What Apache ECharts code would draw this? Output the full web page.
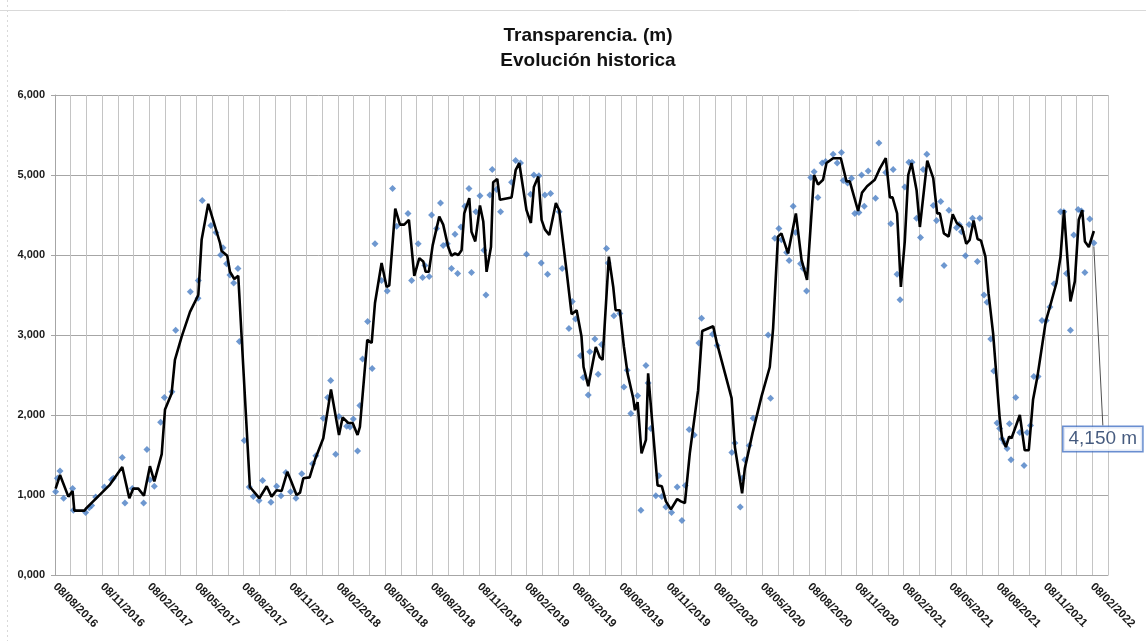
<!DOCTYPE html>
<html>
<head>
<meta charset="utf-8">
<title>Transparencia</title>
<script src="https://cdn.jsdelivr.net/npm/echarts@6/dist/echarts.min.js"></script>
<style>
  html, body { margin: 0; padding: 0; background: #fff; }
  #main { width: 1146px; height: 641px; }
</style>
</head>
<body>
<div id="main"></div>
<script>
// meses contados desde 08/08/2016
const pointMonths = [
  0.04, 0.15, 0.32, 0.55, 1.12, 1.17, 1.95, 2.18, 2.33, 2.59, 3.14, 3.6, 3.71, 4.28, 4.45, 4.92,
  5.64, 5.85, 6.04, 6.32, 6.72, 6.96, 7.44, 7.68, 8.61, 9.1, 9.12, 9.37, 9.92, 10.24, 10.54, 10.69,
  10.92, 11.13, 11.37, 11.64, 11.73, 12.04, 12.36, 12.62, 12.98, 13.21, 13.74, 14.1, 14.38, 14.69,
  14.99, 15.33, 15.7, 16.39, 16.6, 17.07, 17.35, 17.54, 17.86, 18.07, 18.56, 18.77, 18.98, 19.25,
  19.4, 19.57, 19.89, 20.18, 20.36, 20.78, 21.14, 21.48, 21.74, 22.46, 22.69, 23.11, 23.39, 23.54,
  23.81, 23.96, 24.28, 24.53, 24.7, 24.96, 25.23, 25.45, 25.62, 25.83, 26.08, 26.34, 26.5, 26.78,
  27.04, 27.29, 27.42, 27.67, 27.82, 28.1, 28.35, 29.05, 29.31, 29.62, 30.0, 30.26, 30.47, 30.79,
  30.94, 31.17, 31.34, 31.53, 32.08, 32.27, 32.7, 32.91, 33.12, 33.44, 33.61, 33.93, 34.03, 34.35,
  34.56, 34.78, 35.09, 35.2, 35.56, 35.94, 36.2, 36.41, 36.64, 37.07, 37.28, 37.6, 37.74, 37.91,
  38.23, 38.42, 38.61, 38.87, 39.23, 39.59, 39.89, 40.1, 40.35, 40.67, 40.97, 41.14, 41.84, 42.13,
  43.07, 43.26, 43.6, 43.72, 43.89, 44.17, 44.42, 45.38, 45.53, 45.8, 46.06, 46.22, 46.55, 46.71,
  46.97, 47.12, 47.44, 47.6, 47.82, 48.09, 48.3, 48.54, 48.81, 49.03, 49.51, 49.77, 50.04, 50.15,
  50.43, 50.68, 50.89, 51.15, 51.32, 51.49, 51.74, 52.21, 52.42, 52.86, 53.18, 53.33, 53.58, 53.77,
  54.07, 54.33, 54.53, 54.82, 55.07, 55.24, 55.47, 55.88, 56.09, 56.36, 56.57, 56.88, 57.36, 57.53,
  57.68, 57.93, 58.16, 58.38, 58.69, 58.84, 59.11, 59.3, 59.54, 59.73, 59.94, 60.11, 60.26, 60.42,
  60.58, 60.73, 60.83, 61.13, 61.39, 61.66, 61.85, 62.07, 62.28, 62.55, 62.8, 63.07, 63.3, 63.57,
  63.98, 64.19, 64.36, 64.61, 64.82, 65.1, 65.31, 65.53, 65.84, 66.1
]
const pointValues = [
  1040, 1210, 1300, 960, 1080, 810, 780, 840, 870, 975, 1100, 1190, 1210, 1470, 900, 1080,
  900, 1570, 1190, 1110, 1910, 2220, 2290, 3060, 3540, 3460, 3680, 4680, 4370, 4280, 4000, 4090,
  3890, 3750, 3650, 3830, 2920, 1680, 1100, 980, 930, 1180, 910, 1110, 990, 1280,
  1040, 960, 1265, 1390, 1490, 1960, 2220, 2430, 1510, 1980, 1860, 1850, 1950, 1550,
  2120, 2700, 3170, 2580, 4140, 3680, 3550, 4830, 4360, 4520, 3680, 4140, 3720, 3870,
  3730, 4500, 4330, 4650, 4120, 4140, 3830, 4260, 3770, 4350, 4610, 4830, 3780, 4540,
  4740, 4060, 3500, 4750, 5070, 4820, 4540, 4910, 5180, 5150, 4010, 4760, 5000, 4990,
  3900, 4750, 3760, 4770, 4540, 3830, 3080, 3420, 3200, 2740, 2470, 2250, 2790, 2950,
  2510, 2880, 4080, 3900, 3240, 3270, 2350, 2560, 2020, 2240, 810, 2620, 2400, 1830,
  990, 1240, 980, 850, 780, 1100, 680, 1120, 1820, 1750, 2900, 3210, 3010, 2870,
  1530, 1650, 850, 1210, 1440, 1620, 1960, 3000, 2210, 4210, 4330, 4190, 4030, 3930,
  4610, 4280, 3890, 3830, 3550, 4970, 5040, 4720, 5150, 5170, 5260, 5150, 5280, 4930,
  4900, 4960, 4520, 4530, 5000, 4610, 5050, 4710, 5400, 5030, 4390, 5070, 3760, 3440,
  4850, 5160, 5160, 4460, 4220, 5070, 5260, 4620, 4430, 4670, 3870, 4560, 4340, 4380,
  4290, 3990, 4380, 4460, 3920, 4460, 3500, 3410, 2950, 2550, 1900, 1830, 1700, 1650,
  1580, 1890, 1440, 2220, 1780, 1370, 1780, 1870, 2480, 2480, 3180, 3180, 3350, 3640,
  4540, 4540, 3770, 3060, 4250, 4570, 4550, 3780, 4450, 4150
]
// media móvil (línea negra)
const trendMonths = [
  0.04, 0.32, 0.85, 1.12, 1.23, 1.87, 2.01, 3.5, 4.28, 4.73, 4.98, 5.3, 5.66, 6.04, 6.32, 6.79,
  7.0, 7.42, 7.63, 8.06, 8.59, 9.12, 9.33, 9.75, 10.5, 10.6, 10.96, 11.13, 11.41, 11.66, 12.4, 13.0,
  13.47, 13.78, 14.1, 14.42, 14.78, 14.99, 15.37, 15.59, 15.8, 16.2, 16.54, 17.07, 17.56, 18.07,
  18.3, 18.66, 18.94, 19.25, 19.4, 19.87, 20.15, 20.36, 20.78, 21.1, 21.27, 21.65, 21.95, 22.22,
  22.52, 22.86, 23.18, 23.43, 23.58, 23.79, 24.03, 24.45, 24.7, 25.02, 25.23, 25.45, 25.66, 25.87,
  26.04, 26.36, 26.5, 26.74, 27.04, 27.25, 27.46, 27.74, 27.88, 28.14, 28.31, 29.05, 29.31, 29.54,
  30.0, 30.28, 30.47, 30.75, 30.96, 31.17, 31.45, 31.87, 32.08, 32.55, 32.87, 33.19, 33.5, 33.63,
  33.93, 34.41, 34.67, 34.84, 35.24, 35.52, 35.67, 35.94, 36.2, 36.43, 36.79, 36.9, 37.07, 37.32,
  37.6, 37.74, 38.34, 38.61, 38.87, 39.19, 39.59, 39.82, 40.08, 40.39, 40.92, 41.18, 41.88, 42.09,
  43.05, 43.26, 43.72, 43.89, 44.38, 44.95, 45.48, 45.69, 46.0, 46.22, 46.64, 47.14, 47.5, 47.85,
  48.3, 48.55, 48.87, 49.09, 49.51, 50.0, 50.36, 50.57, 51.1, 51.35, 51.67, 52.16, 52.48, 52.86,
  53.12, 53.29, 53.58, 53.82, 54.07, 54.29, 54.5, 54.82, 55.03, 55.5, 55.88, 56.13, 56.3, 56.56,
  56.86, 57.12, 57.38, 57.71, 57.98, 58.2, 58.45, 58.7, 58.92, 59.2, 59.4, 59.69, 60.1, 60.26,
  60.5, 60.71, 60.86, 61.39, 61.7, 61.96, 62.23, 62.51, 63.04, 63.3, 63.51, 63.72, 63.98, 64.2,
  64.61, 64.89, 65.14, 65.36, 65.53, 65.78, 66.1
]
const trendValues = [
  1080, 1250, 980, 1050, 805, 805, 840, 1130, 1350, 960, 1080, 1080, 990, 1360, 1170, 1510,
  2070, 2270, 2690, 2980, 3290, 3500, 4190, 4640, 4150, 4050, 3990, 3790, 3700, 3740, 1100, 960,
  1110, 980, 1060, 1050, 1290, 1190, 1000, 1030, 1210, 1220, 1440, 1710, 2320, 1750,
  1970, 1900, 1900, 1750, 1850, 2940, 2900, 3400, 3900, 3600, 3620, 4580, 4380, 4380,
  4440, 3740, 3960, 3920, 3790, 3790, 4120, 4480, 4380, 4100, 3990, 4020, 4000, 4060,
  4520, 4710, 4290, 4170, 4620, 4420, 3790, 4100, 4910, 4950, 4690, 4720, 5060, 5150,
  4560, 4400, 4850, 4980, 4440, 4320, 4250, 4650, 4560, 3800, 3260, 3310, 2980, 2600,
  2360, 2850, 2720, 2690, 3980, 3600, 3310, 3310, 2850, 2520, 2210, 2060, 2160, 1520,
  1690, 2520, 1120, 1110, 920, 820, 950, 920, 900, 1520, 2310, 3050, 3110, 2920,
  2210, 1600, 1020, 1330, 1770, 2230, 2600, 3080, 4230, 4270, 4020, 4520, 3940, 3690,
  5000, 4880, 4940, 5150, 5210, 5210, 4920, 4920, 4550, 4780, 4860, 4940, 5080, 5210,
  4720, 4720, 4520, 3600, 4170, 5000, 5150, 4810, 4350, 5180, 4960, 4520, 4520, 4270,
  4230, 4510, 4400, 4350, 4140, 4190, 4430, 4200, 4180, 3980, 3520, 3020, 1980, 1710,
  1600, 1730, 1710, 2000, 1560, 1560, 2190, 2480, 3170, 3350, 3500, 3650, 3980, 4560,
  3420, 3670, 4440, 4560, 4170, 4100, 4300
]
const startYear = 2016
const startMonth = 7 // agosto
const lastMonth = 66 // 08/02/2022

const monthLabel = (m) => {
  const total = startMonth + m
  const mm = String((total % 12) + 1).padStart(2, '0')
  return '08/' + mm + '/' + (startYear + Math.floor(total / 12))
}

const lastIdx = pointMonths.length - 1
const scatterData = pointMonths.map((m, i) => {
  if (i !== lastIdx) return [m, pointValues[i]]
  return {
    value: [m, pointValues[i]],
    label: {
      show: true,
      position: 'inside',
      formatter: (p) => p.value[1].toLocaleString('en-US') + ' m',
      fontFamily: 'Liberation Sans',
      fontSize: 19,
      color: '#17315e',
      backgroundColor: '#fff',
      borderColor: '#4472c4',
      borderWidth: 1.5,
      padding: [3, 5, 2, 5],
    },
    labelLine: { show: true, lineStyle: { color: '#505050', width: 1 } },
  }
})

const chart = echarts.init(document.getElementById('main'), null, { renderer: 'canvas' })
chart.setOption({
  backgroundColor: '#fff',
  animation: false,
  title: {
    text: 'Transparencia. (m)\nEvolución historica',
    left: 583,
    top: 18,
    textAlign: 'center',
    textStyle: {
      fontFamily: 'Liberation Sans',
      fontSize: 19,
      fontWeight: 'bold',
      color: '#111',
      lineHeight: 25,
    },
  },
  graphic: [
    { type: 'line', shape: { x1: 0, y1: 10.5, x2: 1146, y2: 10.5 }, style: { stroke: '#d9d9d9', lineWidth: 1 } },
    { type: 'line', shape: { x1: 7.5, y1: 0, x2: 7.5, y2: 641 }, style: { stroke: '#d9d9d9', lineWidth: 1, lineDash: [2, 3] } },
  ],
  grid: { left: 55, right: 38, top: 95, bottom: 66 },
  xAxis: {
    type: 'value',
    min: 0,
    max: 67,
    interval: 1,
    axisLine: { show: true, lineStyle: { color: '#a6a6a6' } },
    axisTick: { show: false },
    splitLine: { show: true, lineStyle: { color: '#c4c4c4', width: 1 } },
    axisLabel: {
      rotate: -45,
      margin: 10,
      fontFamily: 'Liberation Sans',
      fontSize: 11.5,
      fontWeight: 'bold',
      color: '#1a1a1a',
      showMinLabel: true,
      showMaxLabel: true,
      formatter: (v) => (v % 3 === 0 && v <= lastMonth ? monthLabel(v) : ''),
    },
  },
  yAxis: {
    type: 'value',
    min: 0,
    max: 6000,
    interval: 1000,
    axisLine: { show: true, lineStyle: { color: '#a6a6a6' } },
    axisTick: { show: true, length: 4, lineStyle: { color: '#a6a6a6' } },
    splitLine: { show: true, lineStyle: { color: '#a6a6a6', width: 1 } },
    axisLabel: {
      margin: 10,
      fontFamily: 'Liberation Sans',
      fontSize: 11,
      fontWeight: 'bold',
      color: '#1a1a1a',
      formatter: (v) => v / 1000 + ',000',
    },
  },
  series: [
    {
      type: 'scatter',
      name: 'Transparencia',
      symbol: 'diamond',
      symbolSize: 7,
      itemStyle: { color: '#4a7ec4' },
      z: 2,
      data: scatterData,
      labelLayout: (params) => (params.dataIndex === lastIdx ? { dx: 9, dy: 196 } : {}),
    },
    {
      type: 'line',
      name: 'Media móvil',
      symbol: 'none',
      lineStyle: { color: '#000', width: 2.6 },
      z: 3,
      data: trendMonths.map((m, i) => [m, trendValues[i]]),
    },
  ],
})
</script>
</body>
</html>
